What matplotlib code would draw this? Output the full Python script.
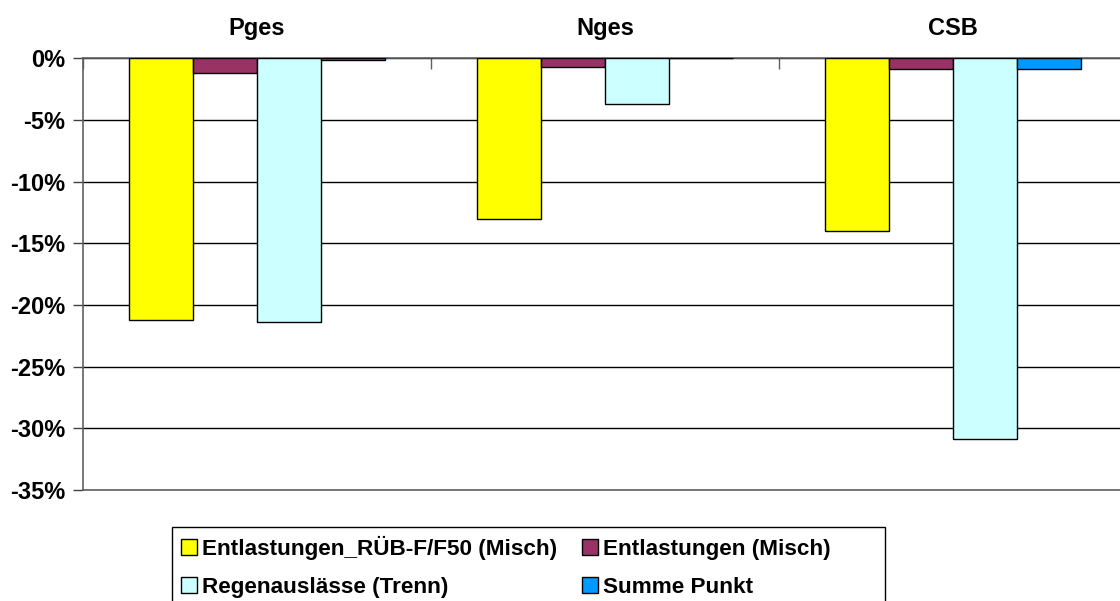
import matplotlib
matplotlib.use("Agg")
import matplotlib.pyplot as plt
import numpy as np
from matplotlib.patches import Rectangle
from matplotlib.ticker import FixedLocator, FuncFormatter

plt.rcParams["font.family"] = ["Liberation Sans", "DejaVu Sans"]
plt.rcParams["font.weight"] = "bold"

# values, percent change
groups = ["Pges", "Nges", "CSB"]
series = ["Entlastungen_RÜB-F/F50 (Misch)", "Entlastungen (Misch)",
          "Regenauslässe (Trenn)", "Summe Punkt"]
rueb = [-21.2, -13.0, -14.0]
misch = [-1.2, -0.7, -0.85]
trenn = [-21.4, -3.7, -30.9]
punkt = [-0.1, 0.0, -0.85]
colors = ["#FFFF00", "#993366", "#CCFFFF", "#0099FF"]
yticks = [0, -5, -10, -15, -20, -25, -30, -35]

W, H = 1120, 601
fig = plt.figure(figsize=(W / 100, H / 100), dpi=100)
ax = fig.add_axes([83 / W, 1 - 490 / H, (1127 - 83) / W, (490 - 58.3) / H])

x = np.arange(len(groups))
bw = 1 / 5.44
bars = []
for i, (vals, lab, c) in enumerate(zip([rueb, misch, trenn, punkt], series,
                                      colors)):
    bars.append(ax.bar(x + (i - 1.5) * bw, vals, bw, align="center",
                       color=c, edgecolor="black", linewidth=1.0,
                       label=lab, zorder=3))

ax.set_xlim(-0.5, 2.5)
ax.set_ylim(-35, 0)
ax.set_axisbelow(True)

# y axis: ticks every 5 %, black grid
ax.yaxis.set_major_locator(FixedLocator(yticks))
ax.yaxis.set_major_formatter(FuncFormatter(lambda v, p: f"{v:.0f}%"))
ax.yaxis.grid(True, color="black", linewidth=1.0)
ax.tick_params(axis="y", direction="out", length=7, width=1, color="#404040",
               pad=6, labelsize=17)

# categories on top, boundary ticks hanging down from the zero line
ax.xaxis.tick_top()
ax.set_xticks(x)
ax.set_xticklabels(groups)
ax.set_xticks([-0.5, 0.5, 1.5, 2.5], minor=True)
ax.tick_params(axis="x", which="major", length=0, pad=13, labelsize=17)
ax.tick_params(axis="x", which="minor", direction="in", length=8, width=1,
               color="#606060")
ax.tick_params(axis="x", which="both", bottom=False, labelbottom=False)

for s in ("top", "bottom", "left"):
    ax.spines[s].set_color("#606060")
    ax.spines[s].set_linewidth(1.2)
ax.spines["right"].set_visible(False)

# legend fills row by row in the reference: reorder for column-major ncol=2
order = [0, 2, 1, 3]
leg = fig.legend([bars[k] for k in order], [series[k] for k in order],
                 loc="upper left", bbox_to_anchor=(174 / W, 1 - 529 / H),
                 ncol=2, frameon=False, fontsize=16.2, handlelength=0.7,
                 handleheight=0.7, handletextpad=0.25, columnspacing=1.1,
                 borderpad=0.3, labelspacing=0.75, borderaxespad=0)
# legend box is wider than its text in the reference, runs off the bottom
fig.patches.append(Rectangle((172 / W, -0.02), (885 - 172) / W,
                             1 - 527 / H + 0.02, transform=fig.transFigure,
                             facecolor="none", edgecolor="black",
                             linewidth=1.0))

fig.savefig("out.png", dpi=100)
